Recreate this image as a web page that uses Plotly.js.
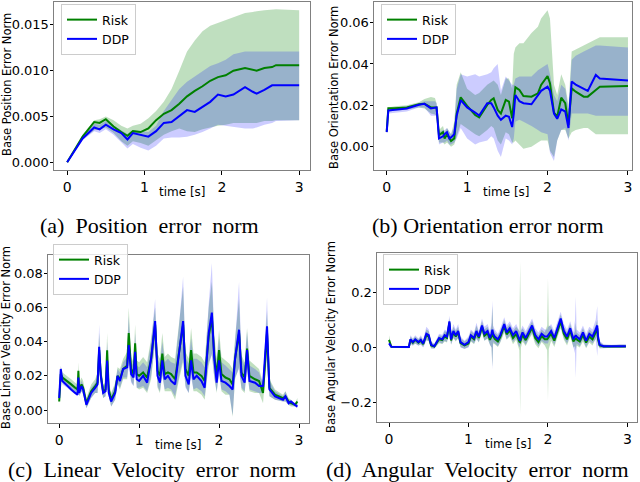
<!DOCTYPE html>
<html><head><meta charset="utf-8">
<script src="https://cdn.plot.ly/plotly-3.0.1.min.js"></script>
<style>html,body{margin:0;padding:0;background:#fff}#g{width:640px;height:482px}</style>
</head><body><div id="g"></div>
<script>
// ---------- (a) Position error norm ----------
const tA = [0,0.09,0.2,0.35,0.42,0.5,0.6,0.7,0.78,0.85,
            0.95,1.05,1.15,1.25,1.35,1.45,1.55,1.65,1.75,1.85,
            1.95,2.05,2.15,2.3,2.4,2.45,2.55,2.65,2.7,3.0];
const riskA = [0,0.0012,0.0028,0.0044,0.0043,0.0047,0.0039,0.0033,0.0029,0.0034,
               0.0033,0.0037,0.0046,0.0053,0.0057,0.0064,0.0072,0.0078,0.0083,0.0089,
               0.0093,0.0095,0.0100,0.0103,0.0101,0.0100,0.0103,0.0104,0.0106,0.0106];
const ddpA = [0,0.0012,0.0026,0.0038,0.0036,0.0041,0.0036,0.0032,0.0025,0.0032,
              0.0030,0.0028,0.0034,0.0043,0.0044,0.0050,0.0057,0.0055,0.0061,0.0066,
              0.0074,0.0072,0.0074,0.0082,0.0077,0.0075,0.0079,0.0084,0.0084,0.0084];
const riskHiA = [0,0.0013,0.0030,0.0046,0.0047,0.0050,0.0046,0.0040,0.0037,0.0040,
                 0.0042,0.0048,0.0056,0.0066,0.0080,0.0100,0.0121,0.0133,0.0143,0.0149,
                 0.0152,0.0155,0.0158,0.0163,0.0164,0.0165,0.0166,0.0167,0.0167,0.0166];
const riskLoA = [0,0.0011,0.0025,0.0035,0.0036,0.0038,0.0032,0.0023,0.0018,0.0023,
                 0.0021,0.0018,0.0024,0.0030,0.0034,0.0037,0.0034,0.0033,0.0036,0.0038,
                 0.0040,0.0041,0.0043,0.0043,0.0043,0.0043,0.0045,0.0045,0.0046,0.0046];
const ddpHiA = [0,0.0013,0.0028,0.0042,0.0041,0.0045,0.0040,0.0035,0.0031,0.0035,
                0.0034,0.0033,0.0040,0.0056,0.0068,0.0080,0.0088,0.0094,0.0100,0.0105,
                0.0108,0.0112,0.0118,0.0121,0.0121,0.0121,0.0121,0.0121,0.0121,0.0121];
const ddpLoA = [0,0.0011,0.0024,0.0034,0.0032,0.0036,0.0030,0.0022,0.0015,0.0020,
                0.0016,0.0013,0.0018,0.0026,0.0027,0.0027,0.0028,0.0030,0.0033,0.0037,
                0.0041,0.0040,0.0039,0.0037,0.0037,0.0038,0.0041,0.0043,0.0045,0.0046];

// ---------- (b) Orientation error norm ----------
const tB = [0,0.02,0.1,0.25,0.4,0.47,0.55,0.6,0.62,0.65,
            0.7,0.72,0.75,0.78,0.8,0.84,0.87,0.92,1.0,1.1,
            1.15,1.25,1.3,1.33,1.38,1.42,1.48,1.52,1.56,1.58,
            1.6,1.65,1.7,1.8,1.88,1.92,2.0,2.03,2.08,2.12,
            2.17,2.22,2.26,2.3,2.35,2.45,2.5,2.6,2.65,3.0];
const riskB = [0.0073,0.0186,0.0186,0.019,0.0205,0.0207,0.019,0.019,0.019,0.0056,
               0.007,0.004,0.006,0.004,0.0027,0.004,0.016,0.0239,0.0197,0.0153,
               0.0142,0.0202,0.0226,0.0234,0.0178,0.016,0.0226,0.0218,0.0137,0.022,
               0.0287,0.0274,0.0245,0.0242,0.0258,0.0299,0.0342,0.0307,0.0165,0.0145,
               0.0237,0.021,0.0105,0.0282,0.0266,0.0242,0.0242,0.0274,0.029,0.0294];
const ddpB = [0.007,0.0175,0.0178,0.0185,0.0203,0.0207,0.0185,0.019,0.019,0.004,
              0.005,0.006,0.007,0.004,0.0045,0.006,0.015,0.0225,0.019,0.0165,
              0.015,0.021,0.021,0.019,0.015,0.013,0.015,0.0145,0.0095,0.016,
              0.025,0.022,0.021,0.0205,0.025,0.027,0.029,0.027,0.016,0.0135,
              0.018,0.017,0.009,0.0315,0.030,0.0278,0.027,0.0347,0.033,0.032];
const riskHiB = [0.008,0.019,0.0195,0.020,0.0215,0.023,0.024,0.0235,0.021,0.008,
                 0.010,0.007,0.009,0.007,0.006,0.012,0.030,0.036,0.028,0.025,
                 0.026,0.030,0.031,0.032,0.030,0.025,0.033,0.033,0.028,0.045,
                 0.048,0.050,0.050,0.055,0.058,0.062,0.066,0.062,0.030,0.025,
                 0.035,0.030,0.020,0.046,0.047,0.049,0.050,0.052,0.053,0.053];
const riskLoB = [0.0068,0.017,0.0175,0.018,0.019,0.0185,0.016,0.0155,0.015,0.002,
                 0.002,0.001,0.002,0.001,0.000,0.001,0.005,0.011,0.009,0.006,
                 0.005,0.008,0.010,0.009,0.003,0.001,0.007,0.006,0.002,0.002,
                 0.003,0.001,-0.001,0.000,0.002,0.003,0.003,-0.002,-0.005,0.003,
                 0.008,0.008,0.004,0.007,0.008,0.009,0.009,0.006,0.006,0.006];
const ddpHiB = [0.0075,0.018,0.019,0.0195,0.021,0.022,0.022,0.022,0.021,0.007,
                0.008,0.008,0.009,0.007,0.006,0.010,0.028,0.035,0.034,0.035,
                0.034,0.035,0.036,0.038,0.040,0.027,0.034,0.032,0.030,0.030,
                0.033,0.034,0.034,0.034,0.037,0.038,0.040,0.035,0.025,0.022,
                0.030,0.028,0.018,0.042,0.044,0.046,0.047,0.049,0.049,0.048];
const ddpLoB = [0.0065,0.016,0.0165,0.017,0.019,0.019,0.015,0.015,0.015,0.001,
                0.002,0.002,0.003,0.001,0.001,0.002,0.004,0.009,0.004,0.001,
                0.002,0.003,0.005,0.004,-0.002,-0.005,0.004,0.003,0.001,0.004,
                0.012,0.013,0.012,0.010,0.008,0.007,0.006,-0.003,-0.007,0.003,
                0.008,0.009,0.003,0.016,0.016,0.016,0.016,0.015,0.015,0.015];

// ---------- (c) Linear velocity error norm ----------
const tC = [0,0.02,0.04,0.1,0.15,0.2,0.23,0.24,0.25,0.28,
            0.3,0.34,0.4,0.45,0.48,0.5,0.52,0.55,0.58,0.6,
            0.62,0.65,0.7,0.73,0.76,0.8,0.85,0.87,0.9,0.93,
            0.95,0.97,1.0,1.05,1.1,1.15,1.2,1.23,1.26,1.29,
            1.32,1.36,1.4,1.45,1.5,1.55,1.58,1.62,1.65,1.68,
            1.72,1.78,1.82,1.87,1.91,1.94,1.97,2.0,2.03,2.08,
            2.13,2.17,2.2,2.25,2.28,2.32,2.35,2.38,2.45,2.5,
            2.55,2.6,2.63,2.7,2.8,2.83,2.87,2.9,2.95,2.98];
const ddpC = [0.007,0.024,0.017,0.014,0.012,0.010,0.009,0.019,0.010,0.014,
              0.012,0.003,0.010,0.013,0.015,0.037,0.020,0.010,0.011,0.029,
              0.010,0.005,0.010,0.020,0.017,0.024,0.025,0.038,0.021,0.019,
              0.034,0.018,0.017,0.020,0.016,0.030,0.052,0.020,0.016,0.029,
              0.018,0.020,0.017,0.015,0.035,0.052,0.020,0.015,0.029,0.018,
              0.020,0.017,0.013,0.045,0.057,0.030,0.016,0.029,0.017,0.016,
              0.014,0.012,0.030,0.047,0.020,0.016,0.035,0.017,0.016,0.014,
              0.014,0.049,0.012,0.008,0.006,0.008,0.004,0.005,0.003,0.002];
const riskC = [0.005,0.021,0.019,0.017,0.015,0.013,0.012,0.023,0.012,0.015,
               0.013,0.004,0.011,0.014,0.016,0.035,0.021,0.011,0.012,0.035,
               0.012,0.006,0.011,0.020,0.018,0.024,0.026,0.045,0.024,0.021,
               0.039,0.021,0.020,0.022,0.019,0.030,0.050,0.023,0.020,0.033,
               0.021,0.022,0.021,0.018,0.034,0.050,0.024,0.020,0.035,0.022,
               0.022,0.020,0.017,0.043,0.054,0.032,0.020,0.035,0.021,0.019,
               0.018,0.015,0.030,0.045,0.022,0.019,0.036,0.020,0.018,0.017,
               0.010,0.045,0.013,0.009,0.007,0.008,0.005,0.004,0.003,0.005];
const riskHiC = [0.006,0.025,0.022,0.020,0.018,0.016,0.015,0.028,0.016,0.019,
                 0.017,0.007,0.015,0.018,0.022,0.045,0.027,0.015,0.016,0.045,
                 0.016,0.010,0.016,0.025,0.024,0.030,0.034,0.060,0.031,0.028,
                 0.050,0.029,0.028,0.031,0.028,0.042,0.060,0.033,0.030,0.045,
                 0.031,0.033,0.031,0.030,0.050,0.072,0.034,0.030,0.048,0.033,
                 0.033,0.031,0.028,0.060,0.075,0.045,0.030,0.047,0.031,0.029,
                 0.027,0.024,0.042,0.065,0.032,0.028,0.048,0.029,0.026,0.024,
                 0.016,0.058,0.018,0.012,0.009,0.011,0.007,0.006,0.004,0.007];
const riskLoC = [0.004,0.017,0.016,0.014,0.012,0.010,0.009,0.018,0.008,0.011,
                 0.009,0.001,0.007,0.010,0.010,0.025,0.015,0.007,0.008,0.025,
                 0.008,0.002,0.006,0.015,0.012,0.018,0.018,0.030,0.017,0.014,
                 0.028,0.013,0.012,0.013,0.010,0.018,0.040,0.013,0.010,0.021,
                 0.011,0.011,0.011,0.006,0.018,0.028,0.014,0.010,0.022,0.011,
                 0.011,0.009,0.006,0.026,0.033,0.019,0.010,0.023,0.011,0.009,
                 0.009,-0.004,0.018,0.025,0.012,0.010,0.024,0.011,0.010,0.010,
                 0.004,0.032,0.008,0.006,0.005,0.005,0.003,0.002,0.002,0.003];
const ddpHiC = [0.006,0.026,0.020,0.018,0.016,0.014,0.013,0.024,0.014,0.017,
                0.015,0.006,0.013,0.016,0.020,0.050,0.025,0.014,0.015,0.040,
                0.014,0.009,0.015,0.024,0.022,0.028,0.031,0.055,0.028,0.026,
                0.045,0.026,0.025,0.028,0.025,0.040,0.065,0.030,0.027,0.040,
                0.028,0.030,0.028,0.027,0.050,0.078,0.031,0.027,0.042,0.030,
                0.030,0.028,0.025,0.062,0.086,0.042,0.027,0.042,0.028,0.026,
                0.024,0.022,0.040,0.075,0.030,0.026,0.046,0.026,0.024,0.022,
                0.015,0.066,0.017,0.011,0.008,0.011,0.006,0.006,0.004,0.004];
const ddpLoC = [0.005,0.019,0.015,0.013,0.011,0.009,0.008,0.016,0.008,0.011,
                0.009,0.001,0.007,0.010,0.010,0.024,0.016,0.007,0.008,0.020,
                0.008,0.002,0.006,0.016,0.013,0.019,0.019,0.025,0.016,0.014,
                0.024,0.013,0.013,0.014,0.011,0.020,0.040,0.014,0.011,0.020,
                0.012,0.013,0.012,0.008,0.020,0.030,0.013,0.010,0.019,0.012,
                0.013,0.011,0.008,0.028,0.032,0.019,0.011,0.020,0.012,0.011,
                0.009,-0.003,0.019,0.024,0.013,0.011,0.023,0.012,0.011,0.010,
                0.010,0.034,0.008,0.006,0.005,0.005,0.003,0.003,0.002,0.001];

// ---------- (d) Angular velocity error norm ----------
const tD = [0,0.03,0.25,0.27,0.3,0.33,0.37,0.4,0.43,0.47,
            0.5,0.53,0.57,0.6,0.63,0.67,0.7,0.73,0.76,0.78,
            0.81,0.84,0.87,0.9,0.95,1.0,1.03,1.07,1.1,1.13,
            1.17,1.2,1.24,1.27,1.29,1.3,1.31,1.33,1.37,1.4,
            1.45,1.48,1.52,1.56,1.6,1.64,1.65,1.66,1.68,1.72,
            1.76,1.8,1.84,1.88,1.92,1.96,1.99,2.0,2.01,2.04,
            2.08,2.12,2.16,2.2,2.24,2.28,2.32,2.34,2.35,2.36,
            2.4,2.44,2.48,2.52,2.56,2.6,2.62,2.63,2.65,2.7,
            2.8,2.9,2.98];
const ddpD = [0.015,0.003,0.002,0.030,0.020,0.030,0.020,0.028,0.015,0.050,
              0.045,0.010,0.005,0.020,0.035,0.030,0.045,0.040,0.095,0.030,
              0.060,0.045,0.060,0.020,0.010,0.020,0.045,0.035,0.060,0.040,
              0.080,0.050,0.060,0.035,0.050,0.065,0.050,0.040,0.030,0.045,
              0.085,0.055,0.070,0.045,0.060,0.030,0.025,0.040,0.055,0.035,
              0.060,0.080,0.045,0.030,0.050,0.040,0.040,0.045,0.050,0.060,
              0.035,0.070,0.105,0.060,0.040,0.070,0.030,0.040,0.045,0.040,
              0.030,0.055,0.025,0.050,0.040,0.065,0.080,0.040,0.010,0.005,
              0.005,0.005,0.005];
const riskD = [0.028,0.003,0.002,0.028,0.018,0.028,0.018,0.025,0.012,0.045,
               0.040,0.008,0.004,0.018,0.030,0.027,0.040,0.035,0.090,0.026,
               0.055,0.040,0.055,0.016,0.008,0.015,0.040,0.030,0.055,0.035,
               0.075,0.043,0.052,0.028,0.040,0.055,0.042,0.032,0.022,0.038,
               0.078,0.048,0.062,0.035,0.050,0.022,0.020,0.030,0.045,0.027,
               0.052,0.072,0.035,0.020,0.042,0.030,0.030,0.035,0.040,0.050,
               0.025,0.060,0.095,0.050,0.030,0.062,0.022,0.030,0.035,0.030,
               0.022,0.045,0.018,0.040,0.030,0.055,0.070,0.030,0.008,0.004,
               0.004,0.004,0.004];
const riskHiD = [0.045,0.006,0.005,0.040,0.030,0.040,0.030,0.040,0.025,0.065,
                 0.060,0.020,0.012,0.030,0.045,0.042,0.060,0.055,0.105,0.045,
                 0.075,0.060,0.075,0.035,0.022,0.035,0.060,0.050,0.080,0.055,
                 0.095,0.065,0.075,0.050,0.080,0.150,0.070,0.055,0.045,0.060,
                 0.100,0.070,0.085,0.060,0.075,0.060,0.310,0.060,0.070,0.050,
                 0.075,0.095,0.060,0.045,0.065,0.055,0.080,0.250,0.080,0.075,
                 0.050,0.085,0.120,0.075,0.055,0.085,0.045,0.060,0.090,0.055,
                 0.045,0.070,0.040,0.065,0.055,0.080,0.100,0.050,0.020,0.010,
                 0.008,0.010,0.010];
const riskLoD = [0.010,0.000,-0.001,0.015,0.008,0.015,0.008,0.012,0.002,0.028,
                 0.022,-0.002,-0.003,0.006,0.016,0.013,0.022,0.018,0.065,0.010,
                 0.035,0.022,0.035,0.002,-0.004,0.002,0.022,0.012,0.035,0.018,
                 0.055,0.025,0.032,0.010,0.000,-0.070,0.015,0.012,0.002,0.018,
                 0.055,0.028,0.040,0.012,0.028,-0.010,-0.240,0.000,0.022,0.006,
                 0.030,0.048,0.012,-0.002,0.020,0.008,-0.010,-0.190,-0.005,0.025,
                 0.002,0.038,0.070,0.028,0.008,0.040,0.000,0.005,-0.010,0.008,
                 0.000,0.022,-0.002,0.018,0.008,0.032,0.045,0.010,-0.002,-0.002,
                 0.000,0.000,0.000];
const ddpHiD = [0.030,0.007,0.006,0.045,0.033,0.045,0.033,0.045,0.030,0.075,
                0.065,0.022,0.014,0.033,0.050,0.046,0.065,0.060,0.115,0.050,
                0.085,0.065,0.085,0.040,0.025,0.040,0.065,0.055,0.090,0.060,
                0.105,0.075,0.085,0.060,0.090,0.170,0.080,0.065,0.050,0.070,
                0.110,0.080,0.095,0.070,0.085,0.060,0.050,0.065,0.080,0.060,
                0.085,0.105,0.070,0.055,0.075,0.065,0.065,0.075,0.075,0.085,
                0.060,0.095,0.130,0.085,0.065,0.095,0.055,0.100,0.185,0.065,
                0.055,0.080,0.050,0.075,0.065,0.100,0.150,0.060,0.025,0.012,
                0.010,0.012,0.012];
const ddpLoD = [0.005,-0.001,-0.002,0.015,0.007,0.015,0.007,0.011,0.000,0.025,
                0.025,-0.003,-0.004,0.007,0.020,0.014,0.025,0.020,0.070,0.010,
                0.035,0.025,0.035,0.000,-0.005,0.000,0.025,0.015,0.030,0.020,
                0.055,0.025,0.035,0.010,0.000,-0.080,0.020,0.015,0.005,0.020,
                0.060,0.030,0.045,0.020,0.035,0.000,0.000,0.015,0.030,0.010,
                0.035,0.055,0.020,0.005,0.025,0.015,0.015,0.015,0.025,0.035,
                0.010,0.045,0.080,0.035,0.015,0.045,0.005,-0.020,-0.110,0.015,
                0.005,0.030,0.000,0.025,0.015,0.030,-0.030,0.020,-0.002,-0.002,
                0.000,0.000,0.000];

const seriesNames = ['Risk','DDP'];
const yTitles = ['Base Position Error Norm','Base Orientation Error Norm',
                 'Base Linear Velocity Error Norm','Base Angular Velocity Error Norm'];
const captions = ['(a)&nbsp; Position&nbsp; error&nbsp; norm','(b) Orientation error norm',
                  '(c)&nbsp; Linear&nbsp; Velocity&nbsp; error&nbsp; norm',
                  '(d)&nbsp; Angular&nbsp; Velocity&nbsp; error&nbsp; norm'];
const xTitle = 'time [s]';

// ---------- build ----------
const GREEN = '#008000', BLUE = '#0000ff';
const GREEN_FILL = 'rgba(0,128,0,0.25)', BLUE_FILL = 'rgba(0,0,255,0.2)';
const panels = [
  {t:tA, r:riskA, rh:riskHiA, rl:riskLoA, d:ddpA, dh:ddpHiA, dl:ddpLoA},
  {t:tB, r:riskB, rh:riskHiB, rl:riskLoB, d:ddpB, dh:ddpHiB, dl:ddpLoB},
  {t:tC, r:riskC, rh:riskHiC, rl:riskLoC, d:ddpC, dh:ddpHiC, dl:ddpLoC},
  {t:tD, r:riskD, rh:riskHiD, rl:riskLoD, d:ddpD, dh:ddpHiD, dl:ddpLoD}
];
function band(t, hi, lo, color, xa, ya){
  return {x: t.concat(t.slice().reverse()), y: hi.concat(lo.slice().reverse()),
    type:'scatter', mode:'lines', fill:'toself', fillcolor:color,
    line:{width:0, color:color}, hoverinfo:'skip', showlegend:false, xaxis:xa, yaxis:ya};
}
const data = [];
const legNames = ['legend','legend2','legend3','legend4'];
panels.forEach((p,i)=>{
  const xa = i===0?'x':'x'+(i+1), ya = i===0?'y':'y'+(i+1);
  data.push(band(p.t, p.rh, p.rl, GREEN_FILL, xa, ya));
  data.push(band(p.t, p.dh, p.dl, BLUE_FILL, xa, ya));
  data.push({x:p.t, y:p.r, type:'scatter', mode:'lines', name:seriesNames[0],
    line:{color:GREEN, width:2}, xaxis:xa, yaxis:ya, legend:legNames[i]});
  data.push({x:p.t, y:p.d, type:'scatter', mode:'lines', name:seriesNames[1],
    line:{color:BLUE, width:2}, xaxis:xa, yaxis:ya, legend:legNames[i]});
});

const W=640, H=482;
function px(x){return x/W;} function py(y){return 1-y/H;}
function axX(l,r,range,anchor){
  return {domain:[px(l),px(r)], range:range, anchor:anchor, tickvals:[0,1,2,3],
    ticks:'outside', ticklen:4, tickcolor:'#000', showline:true, mirror:true,
    linecolor:'#808080', linewidth:1, showgrid:false, zeroline:false,
    tickfont:{size:14, family:'DejaVu Sans', color:'#000'}};
}
function axY(top,bot,range,dtick,fmt,anchor){
  return {domain:[py(bot),py(top)], range:range, anchor:anchor, dtick:dtick, tick0:0,
    tickformat:fmt, ticks:'outside', ticklen:3.5, tickcolor:'#000', showline:true, mirror:true,
    linecolor:'#808080', linewidth:1, showgrid:false, zeroline:false, ticklabelstandoff:-2,
    tickfont:{size:13, family:'DejaVu Sans', color:'#000'}};
}
function leg(x,y){
  return {x:px(x), y:py(y), xanchor:'left', yanchor:'top', bgcolor:'rgba(255,255,255,0.8)',
    bordercolor:'#cccccc', borderwidth:1, font:{size:12.5, family:'DejaVu Sans', color:'#000'},
    tracegroupgap:0};
}
const ann = [];
function txt(x,y,s,size,fam,angle){
  ann.push({x:px(x), y:py(y), xref:'paper', yref:'paper', text:s, showarrow:false,
    xanchor:'center', yanchor:'middle', textangle:angle||0,
    font:{size:size, family:fam, color:'#000'}});
}
txt(182,192,xTitle,12,'DejaVu Sans');
txt(506,192,xTitle,12,'DejaVu Sans');
txt(178,445,xTitle,12,'DejaVu Sans');
txt(508,444,xTitle,12,'DejaVu Sans');
txt(7,85,yTitles[0],11.5,'DejaVu Sans',-90);
txt(334,88,yTitles[1],11.5,'DejaVu Sans',-90);
txt(6,338,yTitles[2],11.5,'DejaVu Sans',-90);
txt(331,337,yTitles[3],11.5,'DejaVu Sans',-90);
txt(149,225,captions[0],22,'Liberation Serif');
txt(488,225,captions[1],22,'Liberation Serif');
txt(152,469,captions[2],22,'Liberation Serif');
txt(477,469,captions[3],22,'Liberation Serif');

const layout = {
  width:W, height:H, margin:{l:0,r:0,t:0,b:0}, paper_bgcolor:'#fff', plot_bgcolor:'#fff',
  font:{family:'DejaVu Sans', size:14, color:'#000'}, showlegend:true,
  xaxis: axX(54,310,[-0.17,3.14],'y'),
  yaxis: axY(2,170,[-0.00084,0.0175],0.005,'.3f','x'),
  xaxis2: axX(374,632,[-0.158,3.05],'y2'),
  yaxis2: axY(2,170,[-0.0113,0.070],0.02,'.2f','x2'),
  xaxis3: axX(48,309,[-0.14,3.125],'y3'),
  yaxis3: axY(255,423,[-0.0076,0.0907],0.02,'.2f','x3'),
  xaxis4: axX(377,637,[-0.151,3.12],'y4'),
  yaxis4: axY(253,422,[-0.269,0.342],0.2,'.1f','x4'),
  legend: leg(61,4), legend2: leg(381,4), legend3: leg(53,244), legend4: leg(383,254),
  annotations: ann
};
Plotly.newPlot('g', data, layout, {staticPlot:true, displayModeBar:false});
</script></body></html>
